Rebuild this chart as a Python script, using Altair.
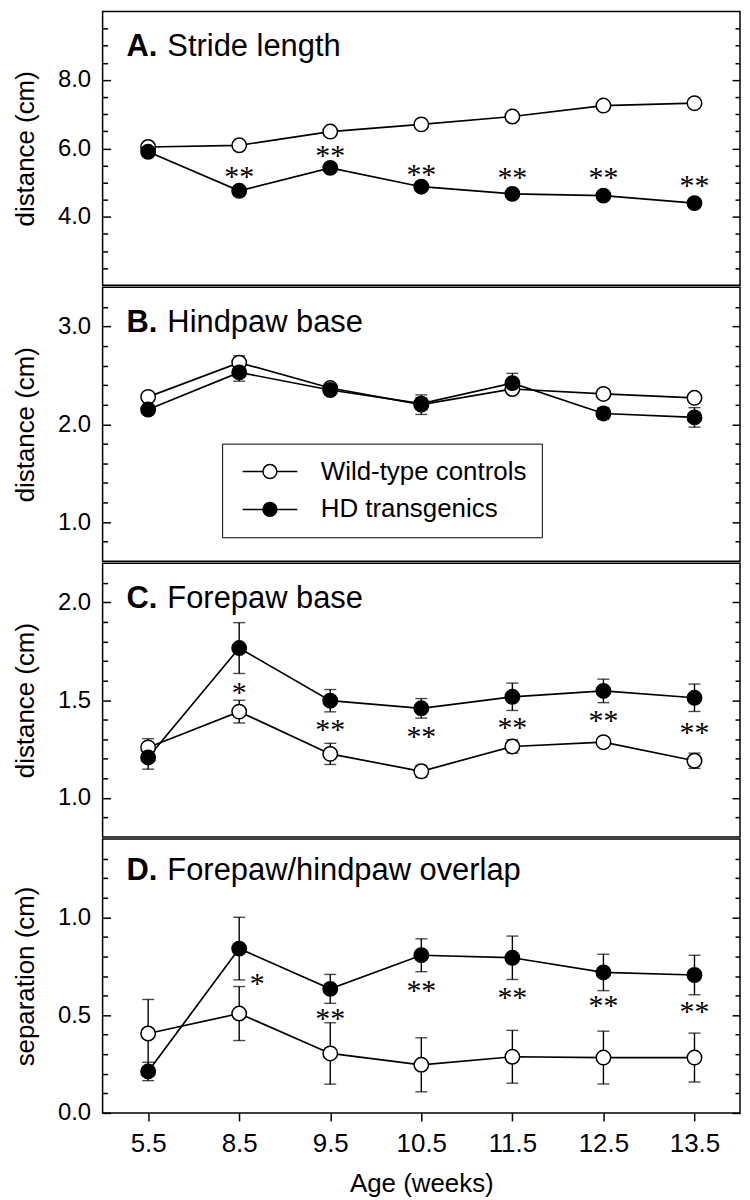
import altair as alt
import pandas as pd

# ---------------- data ----------------
ages = ["5.5", "8.5", "9.5", "10.5", "11.5", "12.5", "13.5"]
series_names = ["Wild-type controls", "HD transgenics"]

# A. Stride length
a_wt = [6.04, 6.09, 6.49, 6.70, 6.93, 7.25, 7.32]
a_wt_err = [0.05, 0.05, 0.05, 0.05, 0.05, 0.05, 0.05]
a_hd = [5.90, 4.76, 5.43, 4.88, 4.67, 4.62, 4.40]
a_hd_err = [0.10, 0.15, 0.10, 0.08, 0.06, 0.06, 0.06]
a_star_ages = ["8.5", "9.5", "10.5", "11.5", "12.5", "13.5"]
a_star_y = [5.31, 5.92, 5.36, 5.27, 5.27, 5.05]
a_star_txt = ["**", "**", "**", "**", "**", "**"]

# B. Hindpaw base
b_wt = [2.28, 2.63, 2.37, 2.20, 2.36, 2.31, 2.27]
b_wt_err = [0.04, 0.07, 0.04, 0.10, 0.04, 0.04, 0.04]
b_hd = [2.15, 2.53, 2.35, 2.21, 2.42, 2.11, 2.07]
b_hd_err = [0.05, 0.09, 0.04, 0.06, 0.10, 0.06, 0.10]

# C. Forepaw base
c_wt = [1.258, 1.441, 1.225, 1.136, 1.263, 1.285, 1.190]
c_wt_err = [0.045, 0.058, 0.054, 0.030, 0.034, 0.020, 0.039]
c_hd = [1.207, 1.766, 1.497, 1.458, 1.517, 1.547, 1.512]
c_hd_err = [0.060, 0.130, 0.057, 0.050, 0.070, 0.060, 0.070]
c_star_ages = ["8.5", "9.5", "10.5", "11.5", "12.5", "13.5"]
c_star_y = [1.56, 1.373, 1.339, 1.381, 1.419, 1.359]
c_star_txt = ["*", "**", "**", "**", "**", "**"]

# D. Forepaw/hindpaw overlap
d_wt = [0.406, 0.508, 0.304, 0.246, 0.287, 0.283, 0.283]
d_wt_err = [0.174, 0.138, 0.157, 0.138, 0.135, 0.135, 0.125]
d_hd = [0.212, 0.840, 0.634, 0.806, 0.793, 0.718, 0.705]
d_hd_err = [0.047, 0.160, 0.074, 0.084, 0.111, 0.093, 0.101]
d_star_ages = ["8.5", "9.5", "10.5", "11.5", "12.5", "13.5"]
d_star_y = [0.685, 0.503, 0.646, 0.612, 0.570, 0.540]
d_star_txt = ["*", "**", "**", "**", "**", "**"]
d_star_shift = [1, 0, 0, 0, 0, 0]

panel_letters = ["A.", "B.", "C.", "D."]
panel_names = ["Stride length", "Hindpaw base", "Forepaw base", "Forepaw/hindpaw overlap"]
y_titles = ["distance (cm)", "distance (cm)", "distance (cm)", "separation (cm)"]
x_title = "Age (weeks)"

a_domain, a_major = [2, 10], [4, 6, 8]
a_minor = [2.5, 3, 3.5, 4.5, 5, 5.5, 6.5, 7, 7.5, 8.5, 9, 9.5]
b_domain, b_major = [0.6, 3.4], [1, 2, 3]
b_minor = [0.8, 1.2, 1.4, 1.6, 1.8, 2.2, 2.4, 2.6, 2.8, 3.2]
c_domain, c_major = [0.8, 2.2], [1.0, 1.5, 2.0]
c_minor = [0.9, 1.1, 1.2, 1.3, 1.4, 1.6, 1.7, 1.8, 1.9, 2.1]
d_domain, d_major = [0, 1.4], [0.0, 0.5, 1.0]
d_minor = [0.1, 0.2, 0.3, 0.4, 0.6, 0.7, 0.8, 0.9, 1.1, 1.2, 1.3]

# ---------------- helpers ----------------
W, H = 640, 275
FONT = "Liberation Sans, Arial, Helvetica, sans-serif"
SERIF = "Liberation Serif, Times New Roman, serif"
SYMBOL = "M-2.75,0H-0.7M0.7,0H2.75M-0.7,0A0.7,0.7,0,1,1,0.7,0A0.7,0.7,0,1,1,-0.7,0Z"


def make_df(wt, wt_err, hd, hd_err):
    rows = []
    for s, m, e in ((series_names[0], wt, wt_err), (series_names[1], hd, hd_err)):
        for a, v, er in zip(ages, m, e):
            rows.append({"age": a, "series": s, "mean": v, "lo": v - er, "hi": v + er})
    return pd.DataFrame(rows)


def make_stars(st_ages, st_y, st_txt, shift=None):
    if shift is None:
        shift = [0] * len(st_ages)
    return pd.DataFrame({"age": st_ages, "y": st_y, "label": st_txt, "shift": shift})


def xenc(show):
    if show:
        ax = alt.Axis(labelFontSize=26, labelAngle=0, tickSize=8, tickWidth=1.5,
                      tickColor="black", domain=False, grid=False, labelPadding=10,
                      title=x_title, titleFontSize=26, titleFontWeight="normal",
                      titlePadding=14, labelColor="black", titleColor="black")
    else:
        ax = None
    return alt.X("age:O", sort=ages, scale=alt.Scale(type="point", padding=0.5), axis=ax)


def tick_axis(orient, values, size):
    return alt.Axis(orient=orient, offset=-W, values=values, labels=False, domain=False,
                    grid=False, ticks=True, tickSize=size, tickWidth=1.5,
                    tickColor="black", title=None)


def panel(idx, df, stars, domain, major, minor, show_x=False, show_legend=False, title_y=45):
    yscale = alt.Scale(domain=domain, nice=False, zero=False)
    main_axis = alt.Axis(values=major, format=".1f", ticks=False, domain=False, grid=False,
                         labelFontSize=24, labelPadding=12, labelColor="black",
                         title=y_titles[idx], titleFontSize=26, titleFontWeight="normal",
                         titleColor="black", titleX=-64, titleY=H / 2)
    base = alt.Chart(df)
    lines = base.mark_line(color="black", strokeWidth=1.7).encode(
        x=xenc(show_x), y=alt.Y("mean:Q", scale=yscale, axis=main_axis),
        detail="series:N")
    rules = base.mark_rule(color="black", strokeWidth=1.4).encode(
        x=xenc(show_x), y=alt.Y("lo:Q", scale=yscale, axis=tick_axis("right", major, 8)),
        y2="hi:Q")
    caps_hi = base.mark_tick(color="black", thickness=1.4, size=12).encode(
        x=xenc(show_x), y=alt.Y("hi:Q", scale=yscale, axis=tick_axis("right", minor, 5)))
    caps_lo = base.mark_tick(color="black", thickness=1.4, size=12).encode(
        x=xenc(show_x), y=alt.Y("lo:Q", scale=yscale, axis=tick_axis("left", major, 8)))
    if show_legend:
        legend = alt.Legend(orient="none", legendX=120, legendY=157, title=None,
                            direction="vertical", strokeColor="black", fillColor="white",
                            padding=15, rowPadding=12, symbolType=SYMBOL, symbolSize=400,
                            symbolStrokeColor="black", symbolStrokeWidth=1.5,
                            symbolOffset=20, labelOffset=38, labelFontSize=26,
                            labelFont=FONT, labelColor="black", labelLimit=500,
                            labelExpr="datum.label + '\u00a0\u00a0\u00a0'")
    else:
        legend = None
    points = base.mark_point(filled=True, shape="circle", size=210, stroke="black",
                             strokeWidth=1.5, opacity=1).encode(
        x=xenc(show_x), y=alt.Y("mean:Q", scale=yscale, axis=tick_axis("left", minor, 5)),
        fill=alt.Fill("series:N", scale=alt.Scale(domain=series_names, range=["white", "black"]),
                      legend=legend))
    layers = [lines, rules, caps_hi, caps_lo, points]
    if stars is not None:
        s0 = stars[stars["shift"] == 0]
        s1 = stars[stars["shift"] != 0]
        layers.append(alt.Chart(s0).mark_text(font=SERIF, fontSize=30, baseline="alphabetic",
                                              dy=14, color="black").encode(
            x=xenc(show_x), y=alt.Y("y:Q", scale=yscale, axis=None), text="label:N"))
        if len(s1):
            layers.append(alt.Chart(s1).mark_text(font=SERIF, fontSize=30, baseline="alphabetic",
                                                  dy=14, dx=18, color="black").encode(
                x=xenc(show_x), y=alt.Y("y:Q", scale=yscale, axis=None), text="label:N"))
    t1 = alt.Chart(pd.DataFrame({"t": [panel_letters[idx]]})).mark_text(
        align="left", baseline="alphabetic", fontSize=31, fontWeight="bold", font=FONT,
        color="black").encode(x=alt.value(24), y=alt.value(title_y), text="t:N")
    t2 = alt.Chart(pd.DataFrame({"t": [panel_names[idx]]})).mark_text(
        align="left", baseline="alphabetic", fontSize=31, font=FONT,
        color="black").encode(x=alt.value(65), y=alt.value(title_y), text="t:N")
    layers += [t1, t2]
    return alt.layer(*layers).resolve_axis(y="independent").properties(width=W, height=H)


pA = panel(0, make_df(a_wt, a_wt_err, a_hd, a_hd_err),
           make_stars(a_star_ages, a_star_y, a_star_txt), a_domain, a_major, a_minor)
pB = panel(1, make_df(b_wt, b_wt_err, b_hd, b_hd_err), None, b_domain, b_major, b_minor,
           show_legend=True)
pC = panel(2, make_df(c_wt, c_wt_err, c_hd, c_hd_err),
           make_stars(c_star_ages, c_star_y, c_star_txt), c_domain, c_major, c_minor)
pD = panel(3, make_df(d_wt, d_wt_err, d_hd, d_hd_err),
           make_stars(d_star_ages, d_star_y, d_star_txt, d_star_shift), d_domain, d_major,
           d_minor, show_x=True, title_y=41)

chart = (
    alt.vconcat(pA, pB, pC, pD, spacing=0)
    .resolve_scale(fill="independent")
    .resolve_legend(fill="independent")
    .properties(padding={"left": 4, "top": 0, "right": 0, "bottom": 0})
    .configure(font=FONT, background="white")
    .configure_view(stroke="black", strokeWidth=1.5)
)

chart.save("out.html", embed_options={"renderer": "svg", "actions": False})
